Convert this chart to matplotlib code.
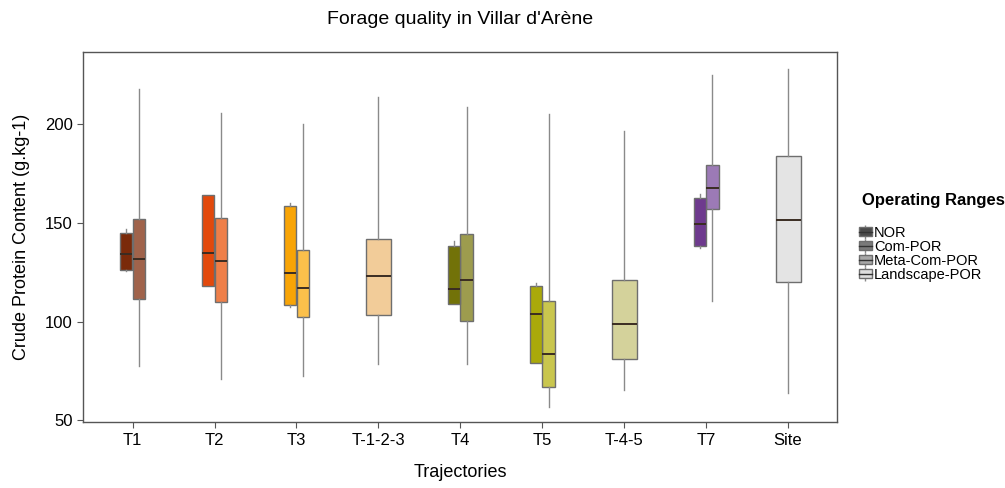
import matplotlib
matplotlib.use("Agg")
import matplotlib.pyplot as plt
from matplotlib.patches import Patch
from matplotlib.lines import Line2D
from matplotlib.legend_handler import HandlerTuple

plt.rcParams['font.family'] = ['Liberation Sans', 'DejaVu Sans']

categories = ["T1", "T2", "T3", "T-1-2-3", "T4", "T5", "T-4-5", "T7", "Site"]

# NOR boxes (trajectory groups only)
nor_cats = ["T1", "T2", "T3", "T4", "T5", "T7"]
nor_low = [125.5, 117.9, 107.4, 108.9, 78.9, 137.3]
nor_q1 = [126.0, 117.9, 108.5, 108.9, 78.9, 138.3]
nor_med = [134.3, 134.6, 124.5, 116.7, 103.9, 149.3]
nor_q3 = [144.9, 164.0, 158.8, 138.5, 117.9, 162.7]
nor_high = [147.1, 164.3, 160.2, 140.7, 119.6, 164.4]
nor_colors = ["#7a2a0a", "#e2490c", "#f8a406", "#727208", "#aaa90a", "#6e3a8e"]

# Com-POR boxes
com_cats = ["T1", "T2", "T3", "T4", "T5", "T7"]
com_low = [77.7, 71.1, 72.6, 78.5, 56.7, 110.3]
com_q1 = [111.5, 109.9, 102.5, 100.5, 67.0, 156.8]
com_med = [131.9, 130.7, 117.0, 120.8, 83.3, 167.6]
com_q3 = [152.2, 152.5, 136.3, 144.6, 110.6, 179.1]
com_high = [218.1, 205.9, 200.3, 208.5, 205.4, 224.8]
com_colors = ["#a0634b", "#ee7f49", "#fbc04b", "#9d9c4e", "#c9c64e", "#9c7ab6"]

# Meta-Com-POR and Landscape-POR boxes
wide_cats = ["T-1-2-3", "T-4-5", "Site"]
wide_low = [78.4, 65.5, 63.8]
wide_q1 = [103.5, 80.9, 120.1]
wide_med = [123.1, 98.8, 151.2]
wide_q3 = [141.7, 121.2, 183.9]
wide_high = [213.8, 196.6, 227.9]
wide_colors = ["#f2cc99", "#d4d29b", "#e4e4e4"]

legend_labels = ["NOR", "Com-POR", "Meta-Com-POR", "Landscape-POR"]
legend_greys = ["#4a4a4a", "#7a7a7a", "#a8a8a8", "#dedede"]

pos = {c: i + 1 for i, c in enumerate(categories)}


def stats(lo, q1, med, q3, hi):
    return [dict(whislo=a, q1=b, med=c, q3=d, whishi=e, fliers=[])
            for a, b, c, d, e in zip(lo, q1, med, q3, hi)]


def draw(ax, cats, st, colors, offset, width):
    bp = ax.bxp(st, positions=[pos[c] + offset for c in cats], widths=width,
                showcaps=False, showfliers=False, patch_artist=True,
                boxprops=dict(edgecolor="#6e6e6e", linewidth=1.0),
                medianprops=dict(color="#3a2c22", linewidth=1.4),
                whiskerprops=dict(color="#8a8a8a", linewidth=1.0))
    for patch, col in zip(bp["boxes"], colors):
        patch.set_facecolor(col)


fig = plt.figure(figsize=(10.05, 4.88), dpi=100)
ax = fig.add_axes([0.083, 0.135, 0.750, 0.758])

draw(ax, com_cats, stats(com_low, com_q1, com_med, com_q3, com_high), com_colors, 0.077, 0.152)
draw(ax, nor_cats, stats(nor_low, nor_q1, nor_med, nor_q3, nor_high), nor_colors, -0.077, 0.152)
draw(ax, wide_cats, stats(wide_low, wide_q1, wide_med, wide_q3, wide_high), wide_colors, 0.0, 0.305)

ax.set_xlim(0.4, 9.6)
ax.set_ylim(49, 236.5)
ax.set_xticks(range(1, len(categories) + 1))
ax.set_xticklabels(categories, fontsize=12)
ax.set_yticks([50, 100, 150, 200])
ax.tick_params(axis="y", labelsize=12, length=4, color="#555555")
ax.tick_params(axis="x", length=4, color="#555555")
for s in ax.spines.values():
    s.set_color("#555555")
    s.set_linewidth(1.0)

ax.set_xlabel("Trajectories", fontsize=13, labelpad=12)
ax.set_ylabel("Crude Protein Content (g.kg-1)", fontsize=13, labelpad=11)
fig.suptitle("Forage quality in Villar d'Arène", fontsize=14, x=0.458, y=0.978)

# legend
fig.text(0.858, 1 - 200 / 488, "Operating Ranges", fontsize=12, fontweight="bold", va="center", ha="left")
handles = []
for g in legend_greys:
    handles.append((Line2D([], [], color="#8a8a8a", lw=1, marker="|", markersize=10, linestyle="None"),
                    Patch(facecolor=g, edgecolor="#6e6e6e"),
                    Line2D([], [], color="#333333", lw=1)))
leg = fig.legend(handles, legend_labels, loc="upper left", bbox_to_anchor=(0.855, 1 - 226 / 488),
                 frameon=False, fontsize=10.5, handlelength=0.85, handleheight=0.6,
                 handletextpad=0.15, labelspacing=0.0, borderaxespad=0, borderpad=0,
                 handler_map={tuple: HandlerTuple(ndivide=1, pad=0)})

fig.savefig("out.png", dpi=100)
